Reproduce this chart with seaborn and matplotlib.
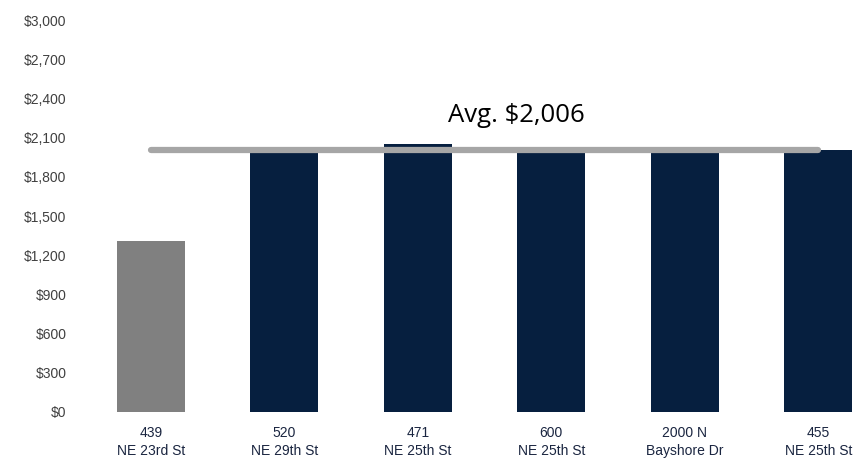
import matplotlib
matplotlib.use("Agg")
import matplotlib.pyplot as plt
import seaborn as sns
import pandas as pd

categories = ["439\nNE 23rd St", "520\nNE 29th St", "471\nNE 25th St",
              "600\nNE 25th St", "2000 N\nBayshore Dr", "455\nNE 25th St"]
rents = [1310, 1990, 2050, 1990, 1995, 2005]
bar_colors = ["#808080", "#061f3f", "#061f3f", "#061f3f", "#061f3f", "#061f3f"]
avg_value = 2006
avg_label = "Avg. $2,006"
y_ticks = [0, 300, 600, 900, 1200, 1500, 1800, 2100, 2400, 2700, 3000]

sns.set_theme(style="white")
plt.rcParams["font.family"] = ["Liberation Sans", "DejaVu Sans"]

df = pd.DataFrame({"property": categories, "rent": rents})

fig = plt.figure(figsize=(8.61, 4.66), dpi=100)
ax = fig.add_axes([100 / 861, 54 / 466, 761 / 861, 392 / 466])

sns.barplot(data=df, x="property", y="rent", hue="property",
            palette=dict(zip(categories, bar_colors)), legend=False,
            width=0.51, saturation=1, linewidth=0, ax=ax)

ax.plot([0, 5], [avg_value, avg_value], color="#a6a6a6", lw=4.5,
        solid_capstyle="round", zorder=5)
ax.text(2.74, 2219, avg_label, ha="center", va="baseline", fontsize=18.5,
        family=["Open Sans", "DejaVu Sans"], color="#000000")

ax.set_xlim(-0.382, 5.32)
ax.set_ylim(0, 3000)
ax.set_yticks(y_ticks)
ax.set_yticklabels([f"${v:,}" for v in y_ticks], color="#404040", fontsize=10)
ax.tick_params(axis="x", colors="#1a2540", labelsize=10, length=0, pad=10)
ax.tick_params(axis="y", length=0, pad=24)
for lbl in ax.get_xticklabels():
    lbl.set_linespacing(1.37)
ax.set_xlabel("")
ax.set_ylabel("")
sns.despine(ax=ax, left=True, bottom=True)

fig.savefig("out.png", dpi=100)
